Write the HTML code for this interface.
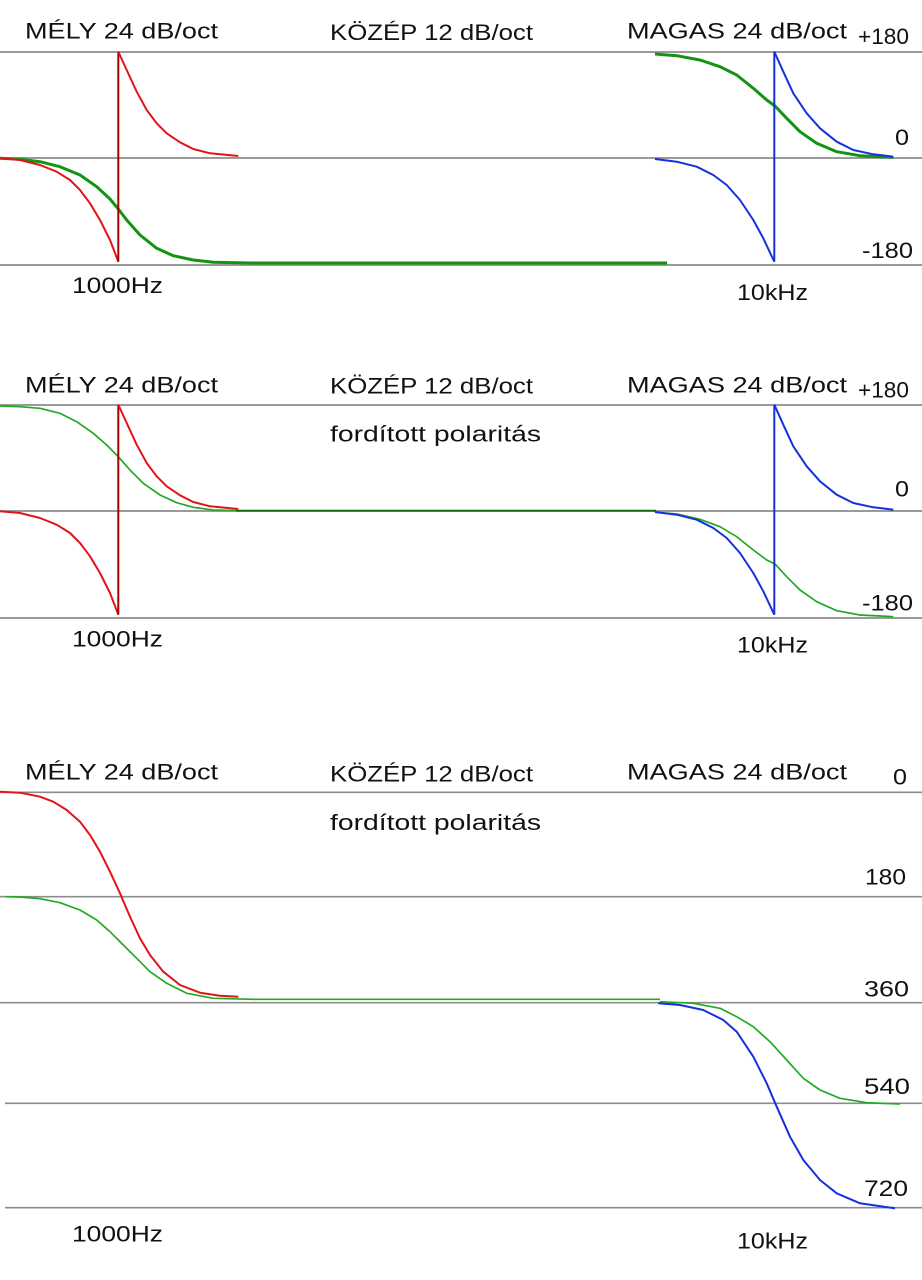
<!DOCTYPE html>
<html><head><meta charset="utf-8"><style>
html,body{margin:0;padding:0;background:#fff;}
svg{display:block;}
text{font-family:"Liberation Sans",sans-serif;font-size:22px;fill:#111;}
.g{stroke:#8c8c8c;stroke-width:1.7;fill:none;}
.r{stroke:#e2141a;stroke-width:2;fill:none;stroke-linejoin:round;}
.rv{stroke:#a80000;stroke-width:2;}
.b{stroke:#1630e0;stroke-width:2;fill:none;stroke-linejoin:round;}
.bv{stroke:#1630e0;stroke-width:2;}
.g1{stroke:#129412;stroke-width:3;fill:none;stroke-linejoin:round;}
.g2{stroke:#22aa22;stroke-width:1.7;fill:none;stroke-linejoin:round;}
</style></head><body>
<svg width="922" height="1280" viewBox="0 0 922 1280" xmlns="http://www.w3.org/2000/svg">
<rect width="922" height="1280" fill="#fff"/>

<!-- ===== Chart 1 ===== -->
<line class="g" x1="0" y1="52" x2="922" y2="52"/>
<line class="g" x1="0" y1="158" x2="922" y2="158"/>
<line class="g" x1="0" y1="265" x2="922" y2="265"/>
<text x="25" y="38.5" textLength="193" lengthAdjust="spacingAndGlyphs">MÉLY 24 dB/oct</text>
<text x="330" y="40" textLength="203" lengthAdjust="spacingAndGlyphs">KÖZÉP 12 dB/oct</text>
<text x="627" y="38.5" textLength="220" lengthAdjust="spacingAndGlyphs">MAGAS 24 dB/oct</text>
<text x="858" y="44" textLength="51" lengthAdjust="spacingAndGlyphs">+180</text>
<text x="895" y="145" textLength="14" lengthAdjust="spacingAndGlyphs">0</text>
<text x="862" y="258" textLength="51" lengthAdjust="spacingAndGlyphs">-180</text>
<text x="72" y="293" textLength="91" lengthAdjust="spacingAndGlyphs">1000Hz</text>
<text x="737" y="300" textLength="71" lengthAdjust="spacingAndGlyphs">10kHz</text>

<polyline class="g1" points="0,158.3 20,159.3 40,161.7 60,166.7 80,175 96.7,186.7 110,199 118.3,209 126.7,220 140,235 156.7,248.3 173.3,255.7 193.3,260 213.3,262.3 250,263 667,263"/>
<polyline class="g1" points="655,54 676.7,55.7 700,60 720,66.7 736.7,75 753.3,88.3 766.7,100 775,106 786.7,118.3 800,131.7 816.7,143.3 836.7,151.7 860,155.7 893.3,157.3"/>
<g id="rb1">
<polyline class="r" points="0,158.3 20,160 40,165 56.7,171.7 70,180 80,190 90,203.3 100,220 110,240 118.3,261.7"/>
<line class="rv" x1="118.3" y1="51.7" x2="118.3" y2="261.7"/>
<polyline class="r" points="118.3,51.7 126.7,70 136.7,91.7 146.7,110 156.7,123.3 166.7,133.3 180,142.3 193.3,149 210,153.3 238.3,156"/>
<polyline class="b" points="655,159 676.7,161.7 696.7,166.7 713.3,175 726.7,185 740,200 753.3,220 763.3,238.3 774.3,261.7"/>
<line class="bv" x1="774.3" y1="51.7" x2="774.3" y2="261.7"/>
<polyline class="b" points="774.3,51.7 783.3,71.7 793.3,93.3 806.7,113.3 820,128.3 836.7,141.7 853.3,150 873.3,154.3 893.3,156.7"/>
</g>

<!-- ===== Chart 2 ===== -->
<line class="g" x1="0" y1="405" x2="922" y2="405"/>
<line class="g" x1="0" y1="511" x2="922" y2="511"/>
<line class="g" x1="0" y1="618" x2="922" y2="618"/>
<text x="25" y="392.3" textLength="193" lengthAdjust="spacingAndGlyphs">MÉLY 24 dB/oct</text>
<text x="330" y="393.3" textLength="203" lengthAdjust="spacingAndGlyphs">KÖZÉP 12 dB/oct</text>
<text x="627" y="392.3" textLength="220" lengthAdjust="spacingAndGlyphs">MAGAS 24 dB/oct</text>
<text x="330" y="441.7" textLength="211" lengthAdjust="spacingAndGlyphs">fordított polaritás</text>
<text x="858" y="397.3" textLength="51" lengthAdjust="spacingAndGlyphs">+180</text>
<text x="895" y="496.7" textLength="14" lengthAdjust="spacingAndGlyphs">0</text>
<text x="862" y="610.7" textLength="51" lengthAdjust="spacingAndGlyphs">-180</text>
<text x="72" y="646.7" textLength="91" lengthAdjust="spacingAndGlyphs">1000Hz</text>
<text x="737" y="652.7" textLength="71" lengthAdjust="spacingAndGlyphs">10kHz</text>

<polyline class="g2" points="0,406 20,406.7 40,408.3 60,413.3 76.7,421.7 93.3,433.3 106.7,445 118.3,456.7 130,470 143.3,483.3 160,495 176.7,502.7 193.3,507.3 213.3,510 238.3,510.7"/>
<line x1="236" y1="510.7" x2="656" y2="510.7" stroke="#0f6a0f" stroke-width="1.8"/>
<polyline class="g2" points="655,512.3 676.7,514 700,519.3 720,526.7 736.7,536.7 753.3,550 766.7,560 775,564 786.7,576.7 800,590 816.7,601.7 836.7,610.7 860,615 893.3,616.7"/>
<g transform="translate(0,353)">
<polyline class="r" points="0,158.3 20,160 40,165 56.7,171.7 70,180 80,190 90,203.3 100,220 110,240 118.3,261.7"/>
<line class="rv" x1="118.3" y1="51.7" x2="118.3" y2="261.7"/>
<polyline class="r" points="118.3,51.7 126.7,70 136.7,91.7 146.7,110 156.7,123.3 166.7,133.3 180,142.3 193.3,149 210,153.3 238.3,156"/>
<polyline class="b" points="655,159 676.7,161.7 696.7,166.7 713.3,175 726.7,185 740,200 753.3,220 763.3,238.3 774.3,261.7"/>
<line class="bv" x1="774.3" y1="51.7" x2="774.3" y2="261.7"/>
<polyline class="b" points="774.3,51.7 783.3,71.7 793.3,93.3 806.7,113.3 820,128.3 836.7,141.7 853.3,150 873.3,154.3 893.3,156.7"/>
</g>

<!-- ===== Chart 3 ===== -->
<line class="g" x1="0" y1="792.3" x2="922" y2="792.3"/>
<line class="g" x1="0" y1="896.7" x2="922" y2="896.7"/>
<line class="g" x1="0" y1="1002.7" x2="922" y2="1002.7"/>
<line class="g" x1="5" y1="1103.3" x2="922" y2="1103.3"/>
<line class="g" x1="5" y1="1207.7" x2="922" y2="1207.7"/>
<text x="25" y="779.3" textLength="193" lengthAdjust="spacingAndGlyphs">MÉLY 24 dB/oct</text>
<text x="330" y="781.7" textLength="203" lengthAdjust="spacingAndGlyphs">KÖZÉP 12 dB/oct</text>
<text x="627" y="779.3" textLength="220" lengthAdjust="spacingAndGlyphs">MAGAS 24 dB/oct</text>
<text x="330" y="830" textLength="211" lengthAdjust="spacingAndGlyphs">fordított polaritás</text>
<text x="893" y="784.3" textLength="14" lengthAdjust="spacingAndGlyphs">0</text>
<text x="865" y="884.3" textLength="41" lengthAdjust="spacingAndGlyphs">180</text>
<text x="864" y="996.7" textLength="45" lengthAdjust="spacingAndGlyphs">360</text>
<text x="864" y="1094" textLength="46" lengthAdjust="spacingAndGlyphs">540</text>
<text x="864" y="1196" textLength="44" lengthAdjust="spacingAndGlyphs">720</text>
<text x="72" y="1241.7" textLength="91" lengthAdjust="spacingAndGlyphs">1000Hz</text>
<text x="737" y="1248.3" textLength="71" lengthAdjust="spacingAndGlyphs">10kHz</text>

<polyline class="r" points="0,791.7 20,792.7 40,796.7 53.3,801.7 66.7,810 80,821.7 90,835 100,851.7 110,871.7 120,893.3 130,916.7 140,938.3 150,955 163.3,971.7 180,985 200,992.7 220,995.7 238.3,996.7"/>
<polyline class="g2" points="5.3,896.7 20,897 40,898.7 60,902.7 80,910 96.7,920 110,931.7 123.3,945 136.7,958.3 150,971.7 166.7,983.3 186.7,993.3 213.3,998.3 253.3,999.3 660,999.3"/>
<polyline class="g2" points="660,1001.7 693.3,1003.3 720,1008.3 736.7,1016.7 753.3,1026.7 770,1041.7 786.7,1060 803.3,1078.3 820,1090 840,1098.3 866.7,1102.7 900,1104"/>
<polyline class="b" points="658.3,1003.3 680,1005 703.3,1010 723.3,1020 736.7,1031.7 753.3,1056.7 766.7,1083.3 776.7,1106.7 790,1136.7 803.3,1160 820,1180 836.7,1193.3 860,1203.3 895,1208.3"/>
</svg>
</body></html>
